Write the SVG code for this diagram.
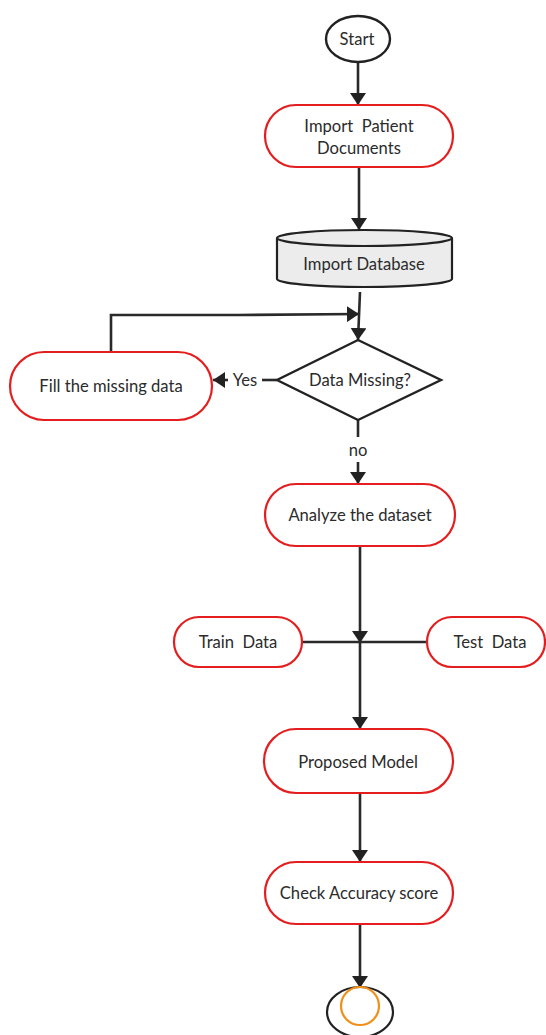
<svg xmlns="http://www.w3.org/2000/svg" width="546" height="1035" viewBox="0 0 546 1035">
  <style>
    .lbl { font-family: Lato, "Open Sans", sans-serif; font-size: 16.6px; fill: #2b2b2b; text-anchor: middle; dominant-baseline: central; }
    .proc { fill: #fff; stroke: #e41e1e; stroke-width: 2.2; }
    .blk { fill: #fff; stroke: #222; stroke-width: 2.4; }
    .wire { fill: none; stroke: #2a2a2a; stroke-width: 2.6; }
  </style>
  <defs>
    <marker id="arrow" viewBox="0 0 12 16" refX="12" refY="8" markerWidth="12" markerHeight="16" markerUnits="userSpaceOnUse" orient="auto">
      <path d="M0,0 L12,8 L0,16 Z" fill="#222"/>
    </marker>
  </defs>
  <rect width="546" height="1035" fill="#fff"/>

  <g id="connectors">
    <path class="wire" d="M358,62 V105" marker-end="url(#arrow)"/>
    <path class="wire" d="M359,167 V230" marker-end="url(#arrow)"/>
    <path class="wire" d="M360,292 L358,340" marker-end="url(#arrow)"/>
    <path class="wire" d="M111,352 V315 H238 L359,314" marker-end="url(#arrow)"/>
    <path class="wire" d="M277,380 H262"/>
    <path class="wire" d="M228,380 H213" marker-end="url(#arrow)"/>
    <path class="wire" d="M358,420 V437"/>
    <path class="wire" d="M358,462 V484" marker-end="url(#arrow)"/>
    <path class="wire" d="M360,546 V643" marker-end="url(#arrow)"/>
    <path class="wire" d="M302,642 H427"/>
    <path class="wire" d="M360,643 V729" marker-end="url(#arrow)"/>
    <path class="wire" d="M360,793 V862" marker-end="url(#arrow)"/>
    <path class="wire" d="M360,924 V988" marker-end="url(#arrow)"/>
    <text class="lbl" x="245" y="380">Yes</text>
    <text class="lbl" x="358" y="450">no</text>
  </g>

  <g id="start">
    <ellipse class="blk" cx="358" cy="39" rx="32" ry="23"/>
    <text class="lbl" x="357" y="39">Start</text>
  </g>

  <g id="import-docs">
    <rect class="proc" x="265" y="105" width="188" height="62" rx="31"/>
    <text class="lbl" x="359" y="126" xml:space="preserve">Import  Patient</text>
    <text class="lbl" x="359" y="148">Documents</text>
  </g>

  <g id="import-db">
    <path d="M277,238 V279 A87.5,8 0 0 0 452,279 V238" fill="#ececec" stroke="#222" stroke-width="2.2"/>
    <ellipse cx="364.5" cy="238" rx="87.5" ry="8" fill="#ececec" stroke="#222" stroke-width="2.2"/>
    <text class="lbl" x="364" y="264">Import Database</text>
  </g>

  <g id="decision">
    <polygon class="blk" points="358,340 441,380 358,420 277,380"/>
    <text class="lbl" x="360" y="380">Data Missing?</text>
  </g>

  <g id="fill-missing">
    <rect class="proc" x="10" y="352" width="202" height="68" rx="34"/>
    <text class="lbl" x="111" y="386">Fill the missing data</text>
  </g>

  <g id="analyze">
    <rect class="proc" x="265" y="484" width="190" height="62" rx="31"/>
    <text class="lbl" x="360" y="515">Analyze the dataset</text>
  </g>

  <g id="train">
    <rect class="proc" x="174" y="617" width="128" height="50" rx="25"/>
    <text class="lbl" x="238" y="642" xml:space="preserve">Train  Data</text>
  </g>

  <g id="test">
    <rect class="proc" x="427" y="617" width="118" height="50" rx="25"/>
    <text class="lbl" x="490" y="642" xml:space="preserve">Test  Data</text>
  </g>

  <g id="model">
    <rect class="proc" x="264" y="729" width="189" height="64" rx="32"/>
    <text class="lbl" x="358" y="762">Proposed Model</text>
  </g>

  <g id="accuracy">
    <rect class="proc" x="265" y="862" width="188" height="62" rx="31"/>
    <text class="lbl" x="359" y="893">Check Accuracy score</text>
  </g>

  <g id="end">
    <ellipse cx="360" cy="1012" rx="33" ry="25" fill="#fff" stroke="#222" stroke-width="2.2"/>
    <circle cx="360" cy="1006" r="19" fill="none" stroke="#f0901a" stroke-width="2.2"/>
  </g>
</svg>
